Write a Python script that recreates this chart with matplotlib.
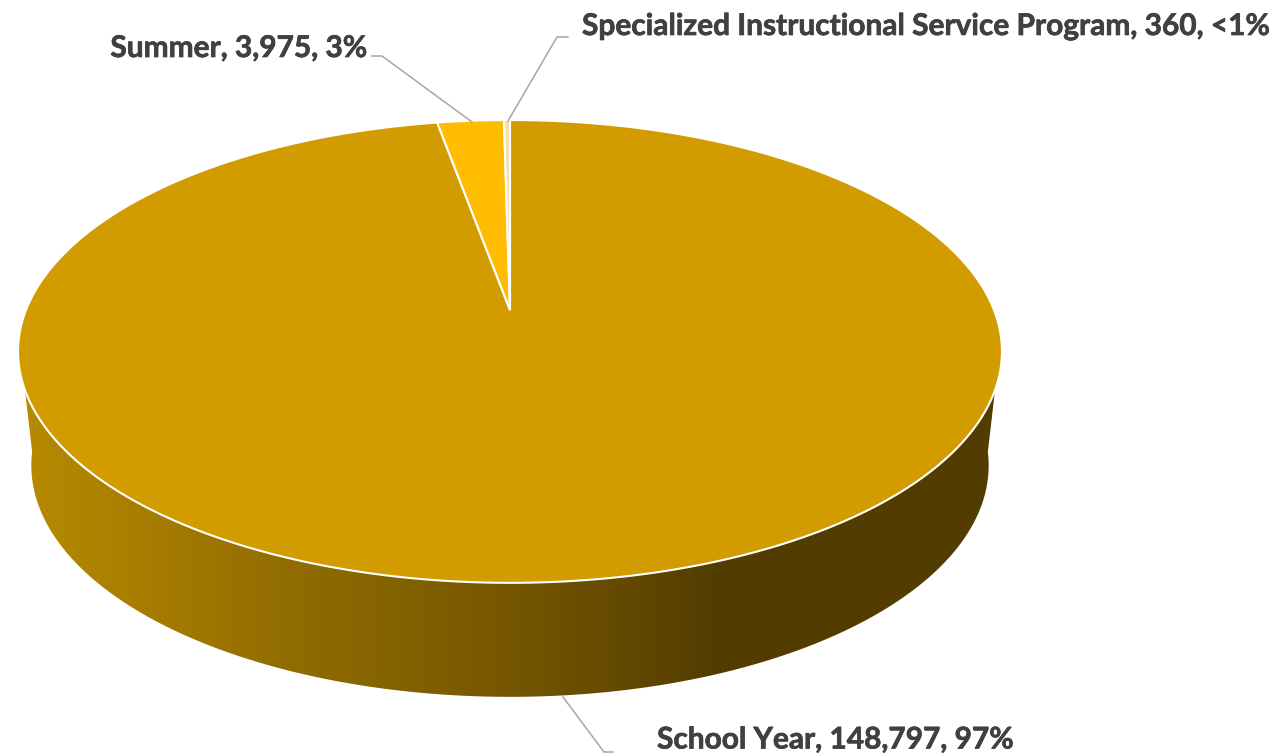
import numpy as np
import matplotlib
matplotlib.use("Agg")
import matplotlib.pyplot as plt
import matplotlib.patheffects as pe
from matplotlib.patches import Polygon
from matplotlib.colors import LinearSegmentedColormap

# data, clockwise from 12 o'clock
categories = ["School Year", "Summer", "Specialized Instructional Service Program"]
values = [148797, 3975, 360]
pct_labels = ["97%", "3%", "<1%"]
colors = ["#D29C00", "#FFBC00", "#FBDDA8"]

# perspective of the tilted disc, in pixels
CX, CY = 510, 310
A, B, C = 484, 224, 0.179

def project(theta, scale=1.0, dy=0.0):
    # theta is clockwise from the top of the pie
    u, v = np.sin(theta), np.cos(theta)
    w = 1 + C * v
    return CX + scale * A * u / w, CY - B * v / w + dy

def wedge(start, end):
    t = np.linspace(start, end, 400)
    x, y = project(t)
    return np.column_stack([np.r_[CX, x], np.r_[CY, y]])

fig = plt.figure(figsize=(12.88, 7.54), dpi=100)
ax = fig.add_axes([0, 0, 1, 1])
ax.set_xlim(0, 1288)
ax.set_ylim(754, 0)
ax.axis("off")

# side wall
t_side = np.radians(np.linspace(97, 263, 400))
xt, yt = project(t_side)
xb, yb = project(t_side, scale=0.973, dy=114)
wall = Polygon(np.column_stack([np.r_[xt, xb[::-1]], np.r_[yt, yb[::-1]]]), closed=True, fc="none", ec="none")
ax.add_patch(wall)
cmap = LinearSegmentedColormap.from_list("wall", [(0, "#B68A00"), (0.1, "#AB8000"), (0.286, "#8F6B00"), (0.49, "#775800"), (0.643, "#5F4600"), (0.71, "#533C00"), (1, "#533C00")])
img = ax.imshow(np.linspace(0, 1, 512)[None, :], extent=[20, 1000, 754, 0], cmap=cmap, aspect="auto", zorder=1)
img.set_clip_path(wall)
ax.set_xlim(0, 1288)
ax.set_ylim(754, 0)

# top face, the School Year slice runs the long way round
fracs = np.array(values) / sum(values)
spec_end = -2 * np.pi * fracs[2]
summer_end = spec_end - 2 * np.pi * fracs[1]
slices = [(0, 2 * np.pi + summer_end), (summer_end, spec_end), (spec_end, 0)]
for (s, e), col in zip(slices, colors):
    ax.add_patch(Polygon(wedge(s, e), closed=True, fc=col, ec="white", lw=1.5, zorder=2))

# leader lines
ax.plot([372, 382, 472], [56, 56, 122], color="#A6A6A6", lw=1.1, zorder=3)
ax.plot([568, 557, 508], [37, 37, 121], color="#A6A6A6", lw=1.1, zorder=3)
ax.plot([563, 604, 613], [697, 752, 752], color="#A6A6A6", lw=1.1, zorder=3)

# labels, a thin stroke makes up for Lato being lighter than the original bold
text_kw = dict(family="Lato", fontweight="bold", fontsize=21.5, color="#404040", va="center", zorder=4,
               path_effects=[pe.withStroke(linewidth=0.5, foreground="#404040")])
def label(i):
    return f"{categories[i]}, {values[i]:,}, {pct_labels[i]}"
ax.text(657, 739.5, label(0), ha="left", **text_kw)
ax.text(367, 48, label(1), ha="right", **text_kw)
ax.text(582, 26, label(2), ha="left", **text_kw)

fig.savefig("out.png", dpi=100)
